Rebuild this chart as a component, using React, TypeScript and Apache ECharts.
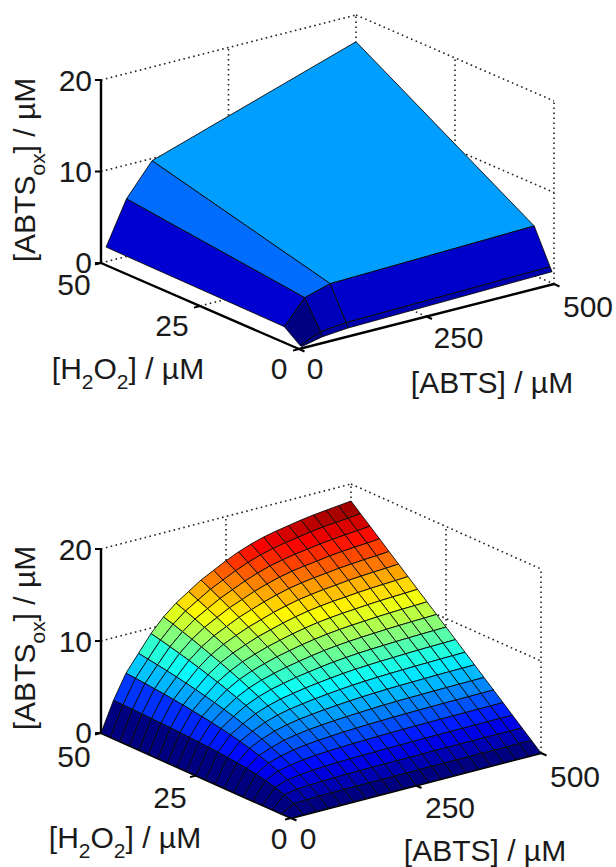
import React, { useEffect, useRef } from "react";
import * as echarts from "echarts";

// ---- data ----
const abtsTicks = [0, 250, 500];
const h2o2Ticks = [0, 25, 50];
const ztopTicks = [0, 10, 20];

// upper surface: measured grid
const measuredAbts = [10, 50, 100, 500];
const measuredH2o2 = [0.5, 1, 5, 50];
const measuredRows = [
  [0.05, 0.54, 0.78, 1.25],
  [0.05, 1.0, 1.27, 1.7],
  [1.36, 3.96, 4.78, 5.4],
  [1.6, 6.3, 9.76, 17.08],
];

// lower surface: simulated grid
const simAbts = [0, 25, 50, 75, 100, 125, 150, 175, 200, 225, 250, 275, 300, 325, 350, 375, 400, 425, 450, 475, 500];
const simH2o2 = [0, 2.5, 5, 7.5, 10, 12.5, 15, 17.5, 20, 22.5, 25, 27.5, 30, 32.5, 35, 37.5, 40, 42.5, 45, 47.5, 50];
const simRows = [
  [0, 0, 0, 0, 0, 0, 0, 0, 0, 0, 0, 0, 0, 0, 0, 0, 0, 0, 0, 0, 0],
  [0, 0.74, 0.82, 0.85, 0.87, 0.88, 0.88, 0.89, 0.89, 0.9, 0.9, 0.9, 0.9, 0.91, 0.91, 0.91, 0.91, 0.91, 0.91, 0.91, 0.91],
  [0, 1.24, 1.5, 1.59, 1.66, 1.7, 1.73, 1.74, 1.76, 1.77, 1.78, 1.79, 1.79, 1.8, 1.8, 1.81, 1.81, 1.81, 1.81, 1.81, 1.81],
  [0, 1.6, 2.06, 2.25, 2.39, 2.47, 2.53, 2.57, 2.6, 2.62, 2.65, 2.66, 2.68, 2.69, 2.7, 2.7, 2.71, 2.71, 2.72, 2.72, 2.72],
  [0, 1.88, 2.55, 2.84, 3.06, 3.2, 3.29, 3.36, 3.41, 3.46, 3.49, 3.52, 3.55, 3.57, 3.58, 3.59, 3.6, 3.61, 3.62, 3.62, 3.63],
  [0, 2.09, 2.96, 3.37, 3.68, 3.88, 4.02, 4.12, 4.21, 4.27, 4.33, 4.37, 4.41, 4.44, 4.46, 4.48, 4.5, 4.51, 4.52, 4.53, 4.54],
  [0, 2.27, 3.32, 3.84, 4.26, 4.53, 4.72, 4.85, 4.97, 5.06, 5.14, 5.21, 5.27, 5.31, 5.34, 5.36, 5.39, 5.4, 5.42, 5.43, 5.44],
  [0, 2.41, 3.64, 4.28, 4.79, 5.14, 5.39, 5.56, 5.72, 5.84, 5.95, 6.04, 6.11, 6.17, 6.21, 6.24, 6.27, 6.3, 6.32, 6.33, 6.35],
  [0, 2.53, 3.92, 4.67, 5.29, 5.72, 6.02, 6.24, 6.44, 6.59, 6.73, 6.85, 6.94, 7.01, 7.07, 7.11, 7.15, 7.18, 7.21, 7.23, 7.26],
  [0, 2.63, 4.17, 5.03, 5.76, 6.27, 6.64, 6.91, 7.15, 7.34, 7.51, 7.66, 7.78, 7.86, 7.93, 7.98, 8.04, 8.08, 8.11, 8.14, 8.17],
  [0, 2.72, 4.4, 5.36, 6.19, 6.79, 7.23, 7.54, 7.84, 8.06, 8.27, 8.45, 8.59, 8.7, 8.78, 8.84, 8.91, 8.96, 9.0, 9.03, 9.07],
  [0, 2.8, 4.6, 5.66, 6.6, 7.28, 7.79, 8.16, 8.5, 8.76, 9.02, 9.23, 9.4, 9.52, 9.62, 9.7, 9.78, 9.84, 9.89, 9.93, 9.98],
  [0, 2.86, 4.78, 5.94, 6.99, 7.76, 8.33, 8.76, 9.16, 9.46, 9.76, 10.0, 10.2, 10.35, 10.47, 10.56, 10.66, 10.73, 10.79, 10.83, 10.89],
  [0, 2.92, 4.95, 6.2, 7.35, 8.2, 8.85, 9.33, 9.78, 10.13, 10.47, 10.75, 10.99, 11.16, 11.3, 11.4, 11.52, 11.6, 11.67, 11.72, 11.79],
  [0, 2.98, 5.1, 6.44, 7.69, 8.64, 9.35, 9.89, 10.41, 10.8, 11.19, 11.51, 11.78, 11.98, 12.14, 12.25, 12.39, 12.48, 12.56, 12.63, 12.71],
  [0, 3.02, 5.24, 6.67, 8.01, 9.04, 9.83, 10.43, 11.0, 11.44, 11.88, 12.24, 12.55, 12.77, 12.95, 13.09, 13.25, 13.35, 13.44, 13.51, 13.61],
  [0, 3.06, 5.37, 6.88, 8.32, 9.43, 10.3, 10.95, 11.59, 12.08, 12.56, 12.97, 13.32, 13.57, 13.77, 13.93, 14.1, 14.22, 14.33, 14.41, 14.51],
  [0, 3.1, 5.49, 7.08, 8.61, 9.81, 10.75, 11.47, 12.17, 12.71, 13.25, 13.7, 14.08, 14.37, 14.6, 14.77, 14.97, 15.11, 15.22, 15.31, 15.43],
  [0, 3.14, 5.6, 7.26, 8.89, 10.17, 11.19, 11.96, 12.72, 13.32, 13.91, 14.41, 14.84, 15.15, 15.41, 15.6, 15.82, 15.97, 16.1, 16.21, 16.34],
  [0, 3.17, 5.7, 7.43, 9.15, 10.52, 11.6, 12.44, 13.26, 13.91, 14.56, 15.11, 15.58, 15.92, 16.21, 16.42, 16.67, 16.84, 16.98, 17.09, 17.24],
  [0, 3.2, 5.8, 7.6, 9.4, 10.85, 12, 12.9, 13.8, 14.5, 15.2, 15.8, 16.3, 16.7, 17, 17.25, 17.5, 17.7, 17.85, 18, 18.15],
];

// ---- view of each panel ----
const FONT = "Liberation Sans";
const FS = 30;
const panels = [
  {
    abts: measuredAbts, h2o2: measuredH2o2, rows: measuredRows, zMax: 17.08,
    O: [299, 349], A: [255, -65], H: [-198, -86], zPx: 9.15, edge: 0.9,
    h2o2Off: [[-20, 19], [-28, 19], [-27, 21]],
    abtsOff: [[16, 19], [32, 21], [34, 22]],
    h2o2Title: [128, 368], abtsTitle: [492, 382], zTitle: [24, 170],
  },
  {
    abts: simAbts, h2o2: simH2o2, rows: simRows, zMax: 17.7,
    O: [291, 818], A: [250, -65], H: [-190, -85], zPx: 9.2, edge: 0.9,
    h2o2Off: [[-12, 20], [-26, 22], [-27, 23]],
    abtsOff: [[17, 20], [34, 22], [34, 23]],
    h2o2Title: [125, 837], abtsTitle: [485, 850], zTitle: [24, 638],
  },
];

type Panel = (typeof panels)[number];

const project = (p: Panel, a: number, h: number, z: number): [number, number] => [
  p.O[0] + (p.A[0] * a) / 500 + (p.H[0] * h) / 50,
  p.O[1] + (p.A[1] * a) / 500 + (p.H[1] * h) / 50 - p.zPx * z,
];

const jet = (t: number) => {
  const c = (v: number) => Math.round(255 * Math.max(0, Math.min(1, v)));
  const r = 1.5 - Math.abs(4 * t - 3);
  const g = 1.5 - Math.abs(4 * t - 2);
  const b = 1.5 - Math.abs(4 * t - 1);
  return `rgb(${c(r)},${c(g)},${c(b)})`;
};

type Seg = { from: [number, number]; to: [number, number]; kind: "dot" | "axis" | "tick" };

const frameSegments = (p: Panel): Seg[] => {
  const s: Seg[] = [];
  const dot = (a0: number, h0: number, z0: number, a1: number, h1: number, z1: number) =>
    s.push({ from: project(p, a0, h0, z0), to: project(p, a1, h1, z1), kind: "dot" });
  const [aMin, aMid, aMax] = abtsTicks;
  const [hMin, hMid, hMax] = h2o2Ticks;
  const [zMin, , zTop] = ztopTicks;
  ztopTicks.forEach((z) => {
    dot(aMin, hMax, z, aMax, hMax, z);
    dot(aMax, hMax, z, aMax, hMin, z);
  });
  dot(aMid, hMax, zMin, aMid, hMax, zTop);
  dot(aMax, hMax, zMin, aMax, hMax, zTop);
  dot(aMax, hMid, zMin, aMax, hMid, zTop);
  dot(aMax, hMin, zMin, aMax, hMin, zTop);
  dot(aMin, hMid, zMin, aMax, hMid, zMin);
  dot(aMid, hMin, zMin, aMid, hMax, zMin);
  const axis = (f: [number, number], t: [number, number]) => s.push({ from: f, to: t, kind: "axis" });
  axis(project(p, aMin, hMax, zMin), project(p, aMin, hMax, zTop));
  axis(project(p, aMin, hMax, zMin), project(p, aMin, hMin, zMin));
  axis(project(p, aMin, hMin, zMin), project(p, aMax, hMin, zMin));
  ztopTicks.forEach((z) => {
    const q = project(p, aMin, hMax, z);
    s.push({ from: q, to: [q[0] - 6, q[1]], kind: "tick" });
  });
  h2o2Ticks.forEach((h) => {
    const q = project(p, aMin, h, zMin);
    s.push({ from: q, to: [q[0] - 6, q[1] + 1.6], kind: "tick" });
  });
  abtsTicks.forEach((a) => {
    const q = project(p, a, hMin, zMin);
    s.push({ from: q, to: [q[0] + 5.5, q[1] + 2.5], kind: "tick" });
  });
  return s;
};

const frameSeries = (p: Panel) => {
  const segs = frameSegments(p);
  return {
    type: "custom",
    silent: true,
    clip: false,
    z: 1,
    data: segs.map((_, i) => [i, 0]),
    renderItem: (_: any, api: any) => {
      const seg = segs[api.value(0)];
      const a = api.coord(seg.from);
      const b = api.coord(seg.to);
      const dotted = seg.kind === "dot";
      return {
        type: "line",
        shape: { x1: a[0], y1: a[1], x2: b[0], y2: b[1] },
        style: {
          stroke: dotted ? "#222" : "#000",
          lineWidth: dotted ? 1.6 : seg.kind === "axis" ? 2.4 : 2,
          lineDash: dotted ? [1.6, 3.4] : undefined,
          fill: null,
        },
      };
    },
  };
};

const surfaceSeries = (p: Panel) => {
  const cells: number[][] = [];
  for (let i = p.abts.length - 2; i >= 0; i--) {
    for (let j = p.h2o2.length - 2; j >= 0; j--) cells.push([i, j]);
  }
  return {
    type: "custom",
    silent: true,
    clip: false,
    z: 2,
    data: cells,
    renderItem: (_: any, api: any) => {
      const i = api.value(0);
      const j = api.value(1);
      const corner = (ii: number, jj: number) =>
        api.coord(project(p, p.abts[ii], p.h2o2[jj], p.rows[jj][ii]));
      return {
        type: "polygon",
        shape: { points: [corner(i, j), corner(i + 1, j), corner(i + 1, j + 1), corner(i, j + 1)] },
        style: {
          fill: jet(p.rows[j][i] / p.zMax),
          stroke: "#0a0a0a",
          lineWidth: p.edge,
          lineJoin: "round",
        },
      };
    },
  };
};

const label = (text: string, x: number, y: number, extra: any = {}) => ({
  type: "text",
  x,
  y,
  z: 10,
  silent: true,
  style: {
    text,
    fontFamily: FONT,
    fontSize: FS,
    fill: "#1a1a1a",
    align: "center",
    verticalAlign: "middle",
    ...extra,
  },
});

const richStyles = {
  m: { fontFamily: FONT, fontSize: FS, fill: "#1a1a1a", lineHeight: 48 },
  s: { fontFamily: FONT, fontSize: 21, fill: "#1a1a1a", lineHeight: 48, verticalAlign: "bottom" },
};

const panelLabels = (p: Panel) => {
  const out: any[] = [];
  ztopTicks.forEach((z) => {
    const q = project(p, abtsTicks[0], h2o2Ticks[2], z);
    out.push(label(String(z), q[0] - 9, q[1] - (z === 0 ? 1 : 0), { align: "right" }));
  });
  h2o2Ticks.forEach((h, k) => {
    const q = project(p, abtsTicks[0], h, 0);
    out.push(label(String(h), q[0] + p.h2o2Off[k][0], q[1] + p.h2o2Off[k][1]));
  });
  abtsTicks.forEach((a, k) => {
    const q = project(p, a, h2o2Ticks[0], 0);
    out.push(label(String(a), q[0] + p.abtsOff[k][0], q[1] + p.abtsOff[k][1]));
  });
  out.push(label("[ABTS] / µM", p.abtsTitle[0], p.abtsTitle[1]));
  out.push(
    label("{m|[H}{s|2}{m|O}{s|2}{m|] / µM}", p.h2o2Title[0], p.h2o2Title[1], { rich: richStyles })
  );
  out.push({
    ...label("{m|[ABTS}{s|ox}{m|] / µM}", p.zTitle[0], p.zTitle[1], { rich: richStyles }),
    rotation: Math.PI / 2,
  });
  return out;
};

export default function App() {
  const ref = useRef<HTMLDivElement>(null);
  useEffect(() => {
    document.body.style.margin = "0";
    const chart = echarts.init(ref.current!, undefined, { renderer: "svg" });
    chart.setOption({
      animation: false,
      backgroundColor: "#fff",
      grid: { left: 0, right: 0, top: 0, bottom: 0 },
      xAxis: { type: "value", min: 0, max: 616, show: false },
      yAxis: { type: "value", min: 0, max: 867, inverse: true, show: false },
      series: panels.flatMap((p) => [frameSeries(p), surfaceSeries(p)]),
      graphic: { elements: panels.flatMap(panelLabels) },
    });
    return () => chart.dispose();
  }, []);
  return <div ref={ref} style={{ width: 616, height: 867 }} />;
}
